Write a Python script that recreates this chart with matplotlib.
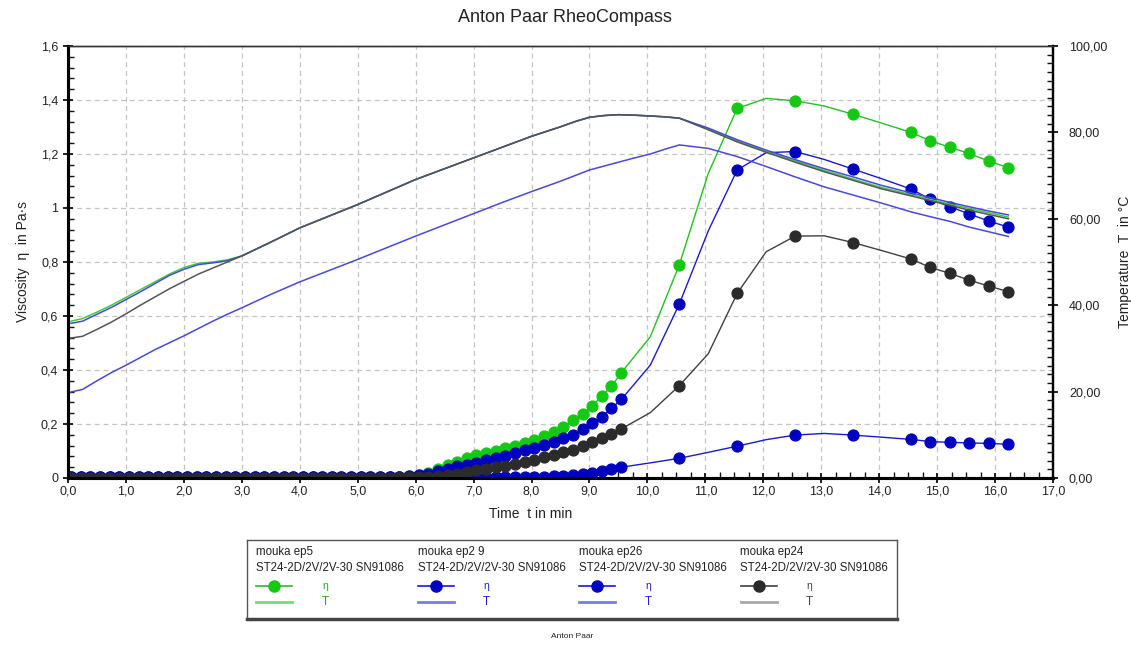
import numpy as np
import matplotlib.pyplot as plt
from matplotlib.ticker import MultipleLocator, FuncFormatter

plt.rcParams['font.family'] = ['Liberation Sans', 'DejaVu Sans']

# ---------------- data ----------------
# measuring points of viscosity (min): every 10 s up to 9.55, then sparse
t_dense = [0.05, 0.22, 0.38, 0.55, 0.72, 0.88, 1.05, 1.22, 1.38, 1.55,
           1.72, 1.88, 2.05, 2.22, 2.38, 2.55, 2.72, 2.88, 3.05, 3.22,
           3.38, 3.55, 3.72, 3.88, 4.05, 4.22, 4.38, 4.55, 4.72, 4.88,
           5.05, 5.22, 5.38, 5.55, 5.72, 5.88, 6.05, 6.22, 6.38, 6.55,
           6.72, 6.88, 7.05, 7.22, 7.38, 7.55, 7.72, 7.88, 8.05, 8.22,
           8.38, 8.55, 8.72, 8.88, 9.05, 9.22, 9.38, 9.55]
t_late = [10.05, 10.55, 11.05, 11.55, 12.05, 12.55, 13.05, 13.55, 14.05,
          14.55, 14.88, 15.22, 15.55, 15.89, 16.23]
late_marked = [False, True, False, True, False, True, False, True, False,
               True, True, True, True, True, True]

eta_ep5 = [0.002, 0.002, 0.002, 0.002, 0.002, 0.002, 0.002, 0.002, 0.002, 0.002,
           0.002, 0.002, 0.002, 0.002, 0.002, 0.002, 0.002, 0.002, 0.002, 0.002,
           0.002, 0.002, 0.002, 0.002, 0.002, 0.002, 0.002, 0.002, 0.002, 0.002,
           0.002, 0.002, 0.003, 0.004, 0.005, 0.007, 0.010, 0.017, 0.032, 0.048,
           0.060, 0.073, 0.085, 0.094, 0.101, 0.110, 0.119, 0.130, 0.141, 0.156,
           0.171, 0.190, 0.215, 0.237, 0.267, 0.304, 0.340, 0.390,
           0.523, 0.789, 1.128, 1.369, 1.406, 1.397, 1.378, 1.347, 1.314,
           1.280, 1.249, 1.225, 1.202, 1.174, 1.149]
eta_ep29 = [0.003, 0.003, 0.003, 0.003, 0.003, 0.003, 0.003, 0.003, 0.003, 0.003,
            0.003, 0.003, 0.003, 0.003, 0.003, 0.003, 0.003, 0.003, 0.003, 0.003,
            0.003, 0.003, 0.003, 0.003, 0.003, 0.003, 0.003, 0.003, 0.003, 0.003,
            0.003, 0.003, 0.003, 0.004, 0.005, 0.007, 0.010, 0.016, 0.025, 0.033,
            0.043, 0.049, 0.056, 0.065, 0.074, 0.083, 0.093, 0.102, 0.111, 0.123,
            0.132, 0.148, 0.160, 0.180, 0.202, 0.227, 0.258, 0.291,
            0.418, 0.644, 0.915, 1.141, 1.205, 1.209, 1.180, 1.144, 1.108,
            1.070, 1.033, 1.005, 0.978, 0.952, 0.929]
eta_ep26 = [0.003, 0.003, 0.003, 0.003, 0.003, 0.003, 0.003, 0.003, 0.003, 0.003,
            0.003, 0.003, 0.003, 0.003, 0.003, 0.003, 0.003, 0.003, 0.003, 0.003,
            0.003, 0.003, 0.003, 0.003, 0.003, 0.003, 0.003, 0.003, 0.003, 0.003,
            0.003, 0.003, 0.003, 0.003, 0.003, 0.003, 0.003, 0.003, 0.003, 0.003,
            0.003, 0.003, 0.003, 0.003, 0.003, 0.003, 0.004, 0.004, 0.004, 0.005,
            0.006, 0.007, 0.010, 0.015, 0.020, 0.026, 0.033, 0.040,
            0.056, 0.073, 0.095, 0.118, 0.142, 0.159, 0.165, 0.159, 0.151,
            0.143, 0.135, 0.132, 0.130, 0.128, 0.125]
eta_ep24 = [0.001, 0.001, 0.001, 0.001, 0.001, 0.001, 0.001, 0.001, 0.001, 0.001,
            0.001, 0.001, 0.001, 0.001, 0.001, 0.001, 0.001, 0.001, 0.001, 0.001,
            0.001, 0.001, 0.001, 0.001, 0.001, 0.001, 0.001, 0.001, 0.001, 0.001,
            0.001, 0.001, 0.001, 0.001, 0.002, 0.002, 0.003, 0.005, 0.007, 0.010,
            0.015, 0.021, 0.028, 0.033, 0.041, 0.046, 0.052, 0.059, 0.068, 0.077,
            0.086, 0.095, 0.105, 0.117, 0.132, 0.148, 0.164, 0.182,
            0.242, 0.342, 0.460, 0.684, 0.838, 0.896, 0.897, 0.872, 0.842,
            0.811, 0.780, 0.758, 0.733, 0.711, 0.690]

# temperature (°C)
t_temp = [0.05, 0.25, 0.5, 0.75, 1.0, 1.25, 1.5, 1.75, 2.0, 2.25, 2.5, 2.75, 3.0,
          3.5, 4.0, 4.5, 5.0, 5.5, 6.0, 6.5, 7.0, 7.5, 8.0, 8.5, 8.75, 9.0, 9.25,
          9.5, 9.75, 10.05, 10.3, 10.55, 11.05, 11.55, 12.05, 12.55, 13.05, 13.55,
          14.05, 14.55, 14.88, 15.22, 15.55, 15.89, 16.23]
T_ep5 = [36.3, 36.9, 38.4, 40.0, 41.8, 43.6, 45.4, 47.2, 48.7, 49.7, 50.0, 50.5, 51.4,
         54.6, 57.9, 60.6, 63.3, 66.2, 69.1, 71.6, 74.1, 76.6, 79.1, 81.3, 82.5, 83.5,
         83.9, 84.1, 84.0, 83.8, 83.6, 83.3, 80.8, 78.0, 75.6, 73.4, 71.2, 69.2,
         67.2, 65.6, 64.5, 63.4, 62.4, 61.4, 60.4]
T_ep29 = [35.8, 36.3, 37.9, 39.5, 41.3, 43.1, 45.0, 46.9, 48.3, 49.4, 49.8, 50.3, 51.4,
          54.6, 57.9, 60.6, 63.3, 66.2, 69.1, 71.6, 74.1, 76.6, 79.1, 81.3, 82.5, 83.5,
          83.9, 84.1, 84.0, 83.8, 83.6, 83.3, 81.0, 78.3, 75.9, 73.7, 71.6, 69.7,
          67.7, 66.0, 64.9, 63.8, 62.8, 61.8, 60.9]
T_ep26 = [19.9, 20.5, 22.5, 24.4, 26.1, 27.9, 29.7, 31.3, 32.9, 34.6, 36.3, 37.9, 39.4,
          42.5, 45.4, 48.0, 50.6, 53.3, 56.0, 58.6, 61.2, 63.8, 66.3, 68.7, 70.0, 71.3,
          72.2, 73.1, 74.0, 75.0, 76.1, 77.1, 76.3, 74.4, 72.1, 69.7, 67.4, 65.5,
          63.6, 61.6, 60.5, 59.4, 58.1, 57.0, 55.9]
T_ep24 = [32.4, 32.8, 34.4, 36.1, 38.0, 40.0, 41.9, 43.8, 45.5, 47.2, 48.6, 50.0, 51.4,
          54.6, 57.9, 60.6, 63.3, 66.2, 69.1, 71.6, 74.1, 76.6, 79.1, 81.3, 82.5, 83.5,
          83.9, 84.1, 84.0, 83.8, 83.6, 83.3, 80.6, 77.8, 75.4, 73.1, 70.9, 68.9,
          66.9, 65.3, 64.2, 63.1, 62.0, 61.0, 60.0]

samples = ["mouka ep5", "mouka ep2 9", "mouka ep26", "mouka ep24"]
system = "ST24-2D/2V/2V-30 SN91086"
eta_series = [eta_ep5, eta_ep29, eta_ep26, eta_ep24]
T_series = [T_ep5, T_ep29, T_ep26, T_ep24]

eta_colors = ["#14c814", "#0000c0", "#0000c0", "#2b2b2b"]
eta_line_colors = ["#22c022", "#1a1ad0", "#1a1ad0", "#404040"]
T_colors = ["#40cc40", "#4848e0", "#4848e0", "#555555"]
T_leg_colors = ["#7ad87a", "#7b7be6", "#7b7be6", "#a8a8a8"]
text_colors = ["#14b414", "#2020c8", "#2020c8", "#444444"]

t_eta = t_dense + t_late
marks = list(range(len(t_dense))) + [len(t_dense) + i for i, m in enumerate(late_marked) if m]

# ---------------- figure ----------------
fig = plt.figure(figsize=(11.31, 6.46), dpi=100)
W, H = 1131, 646
ax = fig.add_axes([68 / W, 1 - 478 / H, (1053 - 68) / W, (478 - 46) / H])
ax2 = ax.twinx()

for i in range(4):
    ax.plot(t_eta, eta_series[i], color=eta_line_colors[i], lw=1.0,
            marker='o', ms=7.8, mfc=eta_colors[i], mec=eta_colors[i],
            markevery=marks, zorder=3, clip_on=True)
for i in range(4):
    ax2.plot(t_temp, T_series[i], color=T_colors[i], lw=1.1)

ax.set_xlim(0, 17)
ax.set_ylim(0, 1.6)
ax2.set_ylim(0, 100)

ax.xaxis.set_major_locator(MultipleLocator(1))
ax.xaxis.set_minor_locator(MultipleLocator(0.25))
ax.yaxis.set_major_locator(MultipleLocator(0.2))
ax.yaxis.set_minor_locator(MultipleLocator(0.04))
ax2.yaxis.set_major_locator(MultipleLocator(20))
ax2.yaxis.set_minor_locator(MultipleLocator(2))

ax.xaxis.set_major_formatter(FuncFormatter(lambda v, p: f"{v:.1f}".replace('.', ',')))
ax.yaxis.set_major_formatter(FuncFormatter(lambda v, p: f"{v:g}".replace('.', ',')))
ax2.yaxis.set_major_formatter(FuncFormatter(lambda v, p: f"{v:.2f}".replace('.', ',')))

for a in (ax, ax2):
    a.tick_params(which='major', direction='inout', length=7, width=1.3,
                  labelsize=9, color='#111111', labelcolor='#222222')
    a.tick_params(which='minor', direction='in', length=4, width=1.0, color='#111111')
ax.tick_params(axis='x', which='major', pad=2)
ax2.tick_params(axis='y', pad=8)

ax.grid(True, which='major', color='#c4c4c4', ls=(0, (4, 3)), lw=0.9)
ax.set_axisbelow(True)

for a in (ax, ax2):
    a.spines['left'].set_linewidth(2.2)
    a.spines['bottom'].set_linewidth(2.2)
    a.spines['right'].set_linewidth(1.6)
    a.spines['top'].set_linewidth(1.0)
    a.spines['top'].set_color('#333333')

ax.set_xlabel("Time  t in min", fontsize=10, color='#222222')
ax.xaxis.set_label_coords(0.47, -0.068)
ax.set_ylabel("Viscosity  η  in Pa·s", fontsize=10, color='#222222', labelpad=8)
ax2.set_ylabel("Temperature  T  in °C", fontsize=10, color='#222222', labelpad=8)

fig.text(565 / W, 1 - 18 / H, "Anton Paar RheoCompass", ha='center', va='center',
         fontsize=13, color='#222222')
fig.text(572 / W, 1 - 637 / H, "Anton Paar", ha='center', va='center',
         fontsize=6, color='#222222')

# ---------------- legend box ----------------
bx0, bx1, by0, by1 = 247, 897, 540, 619
lax = fig.add_axes([bx0 / W, 1 - by1 / H, (bx1 - bx0) / W, (by1 - by0) / H])
lax.set_xlim(0, bx1 - bx0)
lax.set_ylim(by1 - by0, 0)
lax.set_xticks([])
lax.set_yticks([])
for s in lax.spines.values():
    s.set_color('#555555')
    s.set_linewidth(1.0)
lax.spines['bottom'].set_linewidth(2.5)
lax.spines['bottom'].set_color('#444444')

for i in range(4):
    x0 = 9 + i * 161.5
    lax.text(x0, 12, samples[i], fontsize=8.3, va='center', ha='left', color='#222222')
    lax.text(x0, 28, system, fontsize=8.3, va='center', ha='left', color='#222222')
    lax.plot([x0, x0 + 36], [46, 46], color=eta_line_colors[i], lw=1.2)
    lax.plot([x0 + 18], [46], marker='o', ms=8, color=eta_colors[i])
    lax.plot([x0, x0 + 36], [62, 62], color=T_leg_colors[i], lw=2.0)
    lax.text(x0 + 69, 46, "η", fontsize=7.5, va='center', ha='center', color=text_colors[i])
    lax.text(x0 + 69, 62, "T", fontsize=8.5, va='center', ha='center', color=text_colors[i])

fig.savefig("out.png", dpi=100)
